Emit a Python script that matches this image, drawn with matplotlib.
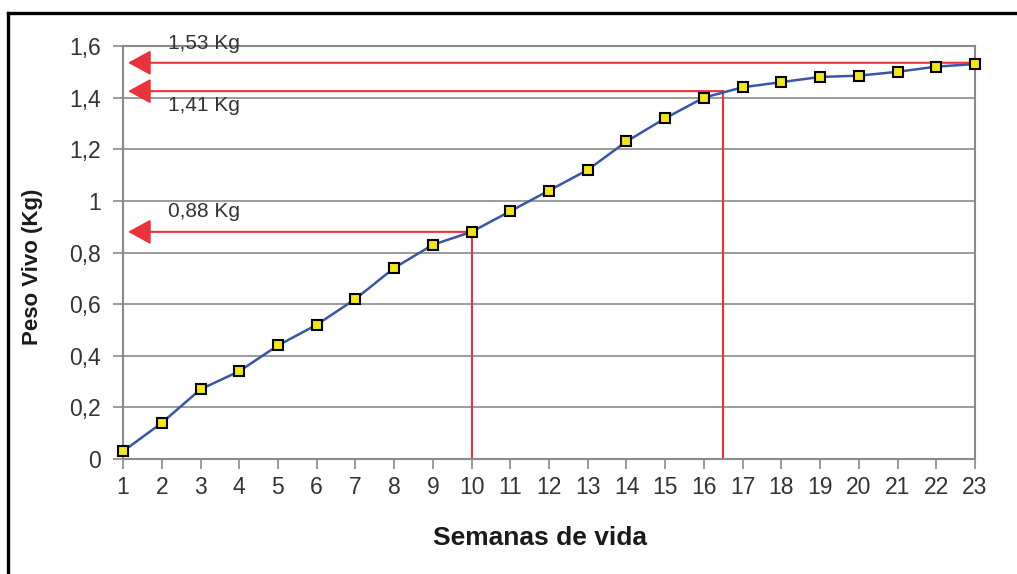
import matplotlib.pyplot as plt
from matplotlib.lines import Line2D

# semanas de vida y peso vivo (Kg)
semanas = list(range(1, 24))
peso = [0.03, 0.14, 0.27, 0.34, 0.44, 0.52, 0.62, 0.74, 0.83, 0.88,
        0.96, 1.04, 1.12, 1.23, 1.32, 1.40, 1.44, 1.46, 1.48, 1.485,
        1.50, 1.52, 1.53]

y_ticks = [0, 0.2, 0.4, 0.6, 0.8, 1.0, 1.2, 1.4, 1.6]
y_tick_labels = ['0', '0,2', '0,4', '0,6', '0,8', '1', '1,2', '1,4', '1,6']

# flechas rojas: semana donde parte, nivel, texto
flecha_x = [23, 16.5, 10]
flecha_y = [1.535, 1.425, 0.88]
flecha_txt = ['1,53 Kg', '1,41 Kg', '0,88 Kg']
txt_y = [1.608, 1.368, 0.957]

plt.rcParams['font.family'] = ['Liberation Sans', 'DejaVu Sans']

rojo = '#e8333a'
gris = '#8a8a8a'

fig = plt.figure(figsize=(10.17, 5.74), dpi=100)
ax = fig.add_axes([0.121, 0.2003, 0.8377, 0.7196])

ax.set_xlim(1, 23)
ax.set_ylim(0, 1.6)
ax.set_yticks(y_ticks)
ax.set_yticklabels(y_tick_labels)
ax.set_xticks(semanas)
ax.yaxis.grid(True, color=gris, lw=1.2)
ax.set_axisbelow(True)
for s in ax.spines.values():
    s.set_color(gris)
    s.set_linewidth(1.5)
ax.tick_params(axis='both', colors=gris, labelcolor='#333333', labelsize=16.5,
               length=7, width=1.2, direction='out')
ax.tick_params(axis='y', pad=9)
ax.tick_params(axis='x', pad=5)

# lineas de referencia
for x0, y0, t, ty in zip(flecha_x, flecha_y, flecha_txt, txt_y):
    ax.annotate('', xy=(1.13, y0), xytext=(x0, y0),
                arrowprops=dict(arrowstyle='-|>,head_length=1.0,head_width=0.55',
                                color=rojo, lw=1.5, mutation_scale=14,
                                shrinkA=0, shrinkB=0))
    if x0 < 23:
        ax.plot([x0, x0], [0, y0], color=rojo, lw=1.5)
    ax.text(2.16, ty, t, fontsize=15, color='#333333', va='center', ha='left')

ax.plot(semanas, peso, color='#3a55a8', lw=1.8, marker='s', markersize=7.5,
        markerfacecolor='#f2e614', markeredgecolor='black', markeredgewidth=1.5,
        clip_on=False, zorder=5)

fig.text(0.531, 0.0627, 'Semanas de vida', fontsize=19, fontweight='bold',
         color='#1a1a1a', ha='center', va='center')
fig.text(0.0324, 0.535, 'Peso Vivo (Kg)', fontsize=16, fontweight='bold',
         color='#1a1a1a', ha='center', va='center', rotation=90)

# marco negro
fig.add_artist(Line2D([8/1017, 8/1017], [0, 1 - 13/574], color='black', lw=2.4,
                      transform=fig.transFigure))
fig.add_artist(Line2D([8/1017, 1], [1 - 13/574, 1 - 13/574], color='black', lw=2.4,
                      transform=fig.transFigure))

fig.savefig('out.png', dpi=100)
